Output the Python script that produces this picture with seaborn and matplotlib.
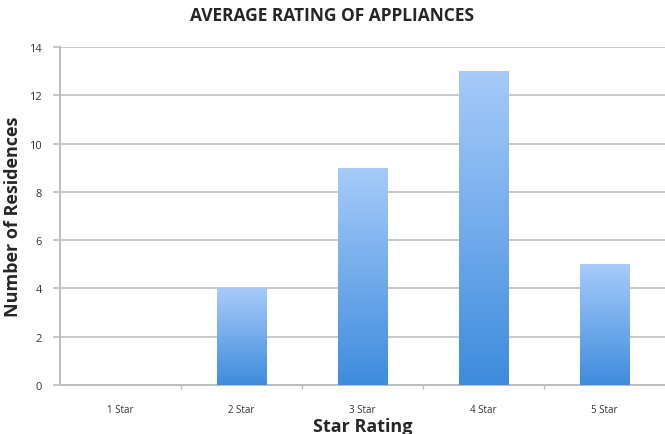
import numpy as np
import pandas as pd
import matplotlib
matplotlib.use("Agg")
import matplotlib.pyplot as plt
from matplotlib.colors import LinearSegmentedColormap
import seaborn as sns

categories = ["1 Star", "2 Star", "3 Star", "4 Star", "5 Star"]
residences = [0, 4, 9, 13, 5]
y_ticks = [0, 2, 4, 6, 8, 10, 12, 14]

sns.set_theme(style="white")
plt.rcParams["font.family"] = ["Open Sans", "DejaVu Sans"]

df = pd.DataFrame({"rating": categories, "count": residences})

fig = plt.figure(figsize=(6.65, 4.35), dpi=100)
ax = fig.add_axes([0.0902, 0.1126, 0.9098, 0.7771])

sns.barplot(data=df, x="rating", y="count", ax=ax, width=0.405,
            color="#6aa8ec", saturation=1, edgecolor="none", zorder=3)

# vertical blue gradient inside each bar
grad = LinearSegmentedColormap.from_list("bar", ["#3e8cdd", "#a7cbfa"])
ramp = np.linspace(0, 1, 256).reshape(-1, 1)
for patch in ax.patches:
    x0, y0 = patch.get_x(), patch.get_y()
    w, h = patch.get_width(), patch.get_height()
    if h <= 0:
        continue
    im = ax.imshow(ramp, cmap=grad, origin="lower", aspect="auto",
                   extent=[x0, x0 + w, y0, y0 + h], zorder=4)
    im.set_clip_path(patch)
    patch.set_facecolor("none")

ax.set_xlim(-0.5, len(categories) - 0.5)
ax.set_ylim(0, 14)
ax.set_yticks(y_ticks)
ax.set_yticklabels([str(t) for t in y_ticks])

ax.yaxis.grid(True, color="#c9c9c9", linewidth=1.4, zorder=0)
ax.set_axisbelow(True)
for side in ["top", "right"]:
    ax.spines[side].set_visible(False)
for side in ["left", "bottom"]:
    ax.spines[side].set_color("#bdbdbd")
    ax.spines[side].set_linewidth(1.4)

ax.tick_params(axis="y", which="major", left=True, length=5, width=1.2,
               color="#bdbdbd", labelsize=8, labelcolor="#333333", pad=8)
ax.tick_params(axis="x", which="major", bottom=False, labelsize=7,
               labelcolor="#333333", pad=8)
ax.set_xticks(np.arange(len(categories) - 1) + 0.5, minor=True)
ax.tick_params(axis="x", which="minor", bottom=True, length=3, width=1,
               color="#bdbdbd")

ax.set_xlabel("Star Rating", fontsize=13, fontweight="bold", labelpad=1)
ax.set_ylabel("Number of Residences", fontsize=13, fontweight="bold", labelpad=5)
fig.suptitle("AVERAGE RATING OF APPLIANCES", fontsize=12.5, fontweight="bold",
             y=0.985, x=0.5)

fig.savefig("out.png", dpi=100)
